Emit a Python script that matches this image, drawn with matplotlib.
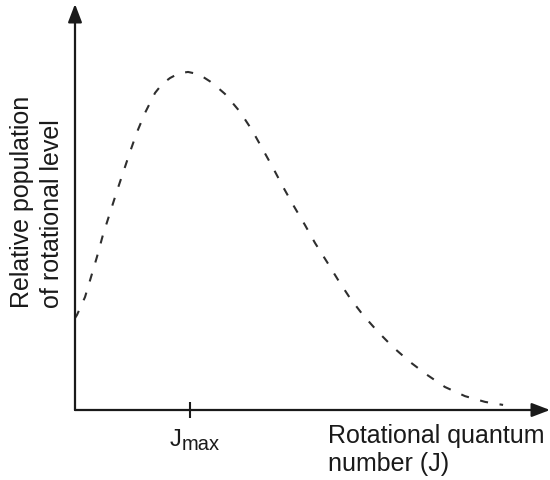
import matplotlib
matplotlib.use("Agg")
import matplotlib.pyplot as plt
from matplotlib.transforms import blended_transform_factory

plt.rcParams['font.family'] = ['Liberation Sans', 'DejaVu Sans']

# Data (arbitrary units; peak normalised to 1)
J_values = [0.00, 0.17, 0.87, 1.39, 1.91, 2.43, 3.04, 3.65, 4.17, 4.78, 5.39, 6.09,
            6.96, 7.57, 8.26, 9.04, 9.83, 10.78, 11.74, 12.43, 13.04, 14.35, 15.39,
            16.26, 17.22, 18.09, 18.96, 20.00, 20.87, 21.91, 22.87, 23.91, 25.04,
            26.35, 27.65, 29.13, 30.61, 32.17, 33.91, 35.65, 37.22]
population = [0.272, 0.281, 0.334, 0.393, 0.453, 0.518, 0.583, 0.648, 0.701, 0.763,
              0.822, 0.879, 0.938, 0.964, 0.982, 0.996, 1.000, 0.993, 0.972, 0.953,
              0.935, 0.882, 0.828, 0.775, 0.716, 0.660, 0.607, 0.547, 0.494, 0.438,
              0.385, 0.331, 0.281, 0.231, 0.186, 0.142, 0.104, 0.068, 0.041, 0.024,
              0.015]
J_max = 10.0
x_label = "Rotational quantum\nnumber (J)"
y_label = "Relative population\nof rotational level"

W, H = 550, 480
fig = plt.figure(figsize=(W / 100, H / 100), dpi=100)
ax = fig.add_axes([75 / W, 70 / H, 475 / W, 406 / H])
ax.set_xlim(0, 41.3)
ax.set_ylim(0, 1.201)
for s in ax.spines.values():
    s.set_visible(False)
ax.set_yticks([])
ax.set_xticks([J_max])
ax.set_xticklabels([""])
ax.tick_params(axis='x', direction='inout', length=12, width=1.5, color='#1a1a1a')

ax.plot(J_values, population, color='#2e2e2e', lw=1.5,
        linestyle=(0, (3.9, 5.6)), clip_on=False)

arrow = dict(arrowstyle='-|>,head_length=1.1,head_width=0.42', color='#1a1a1a',
             lw=1.6, shrinkA=0, shrinkB=0, mutation_scale=10)
ax.annotate('', xy=(1, 0), xytext=(0, 0), xycoords='axes fraction',
            textcoords='axes fraction', arrowprops=arrow, annotation_clip=False)
ax.annotate('', xy=(0, 1), xytext=(0, 0), xycoords='axes fraction',
            textcoords='axes fraction', arrowprops=arrow, annotation_clip=False)

# Jmax label
tr = blended_transform_factory(ax.transData, fig.transFigure)
ax.text(J_max - 0.75, 1 - 446 / H, "J", transform=tr, ha='right', va='baseline',
        fontsize=17, color='#1a1a1a')
ax.text(J_max - 0.75, 1 - 450 / H, "max", transform=tr, ha='left', va='baseline',
        fontsize=14.5, color='#1a1a1a')

fig.text(328 / W, 1 - 424 / H, x_label, ha='left', va='top', fontsize=18,
         multialignment='left', linespacing=1.2, color='#1a1a1a')
fig.text(10 / W, 1 - 308 / H, y_label, ha='left', va='top', fontsize=18,
         rotation=90, rotation_mode='anchor', multialignment='left',
         linespacing=1.3, color='#1a1a1a')

fig.savefig("out.png", dpi=100)
